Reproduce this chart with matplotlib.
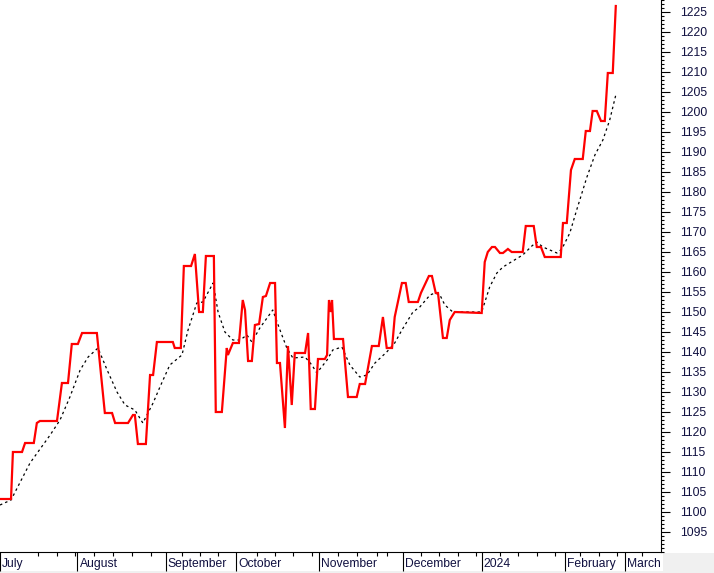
import numpy as np
import matplotlib
matplotlib.use("Agg")
import matplotlib.pyplot as plt
import matplotlib.transforms as mtransforms
from matplotlib.patches import Rectangle
from matplotlib.ticker import MultipleLocator, FixedLocator, NullFormatter

# trading-session index (0 = start of July) and closing level, red line
price_day = [0, 2.9, 3.4, 5.8, 6.6, 8.9, 9.7, 10.5, 15, 16.3, 17.9, 18.9, 20.5, 21.6,
             25.5, 27.6, 29.5, 30.3, 33.7, 35, 35.5, 36.3, 38.4, 39.5, 40.3, 41.3,
             45.5, 46, 47.6, 48.4, 50.3, 51.3, 52.4, 53.4, 54.2, 56.3, 56.8, 58.4,
             59.7, 60, 61.3, 62.9, 63.9, 64.5, 65.3, 66.3, 67.1, 68.2, 69.2, 70,
             71.1, 72.4, 72.9, 73.7, 75, 75.8, 76.8, 77.6, 80.3, 81.1, 81.8, 82.9,
             83.7, 85.5, 86.1, 86.6, 87.1, 87.4, 87.9, 90.3, 91.6, 93.9, 94.7, 96.1,
             97.9, 99.7, 100.8, 101.8, 103.2, 103.9, 105.8, 106.8, 107.6, 110, 110.8,
             112.9, 113.7, 114.7, 115.3, 116.6, 117.6, 118.4, 119.7, 126.8, 127.6,
             128.4, 129.5, 130.3, 131.6, 132.4, 133.7, 134.7, 137.6, 138.4, 140.5,
             141.3, 142.4, 143.4, 147.6, 148.2, 149.2, 150.3, 151.3, 153.4, 154.2,
             155.3, 156, 157.1, 158.2, 159.2, 160, 161.3, 162.1]
price = [1103.25, 1103.25, 1115, 1115, 1117.25, 1117.25, 1122.25, 1122.75, 1122.75,
         1132.25, 1132.25, 1142, 1142, 1144.75, 1144.75, 1124.75, 1124.75, 1122.25,
         1122.25, 1124.25, 1124.25, 1117, 1117, 1134.25, 1134.25, 1142.5, 1142.5,
         1141, 1141, 1161.5, 1161.5, 1164.5, 1150, 1150, 1164, 1164, 1125, 1125,
         1141, 1139.25, 1142.25, 1142.25, 1153, 1150.5, 1137.75, 1137.75, 1146.75,
         1147, 1153.75, 1154, 1157.25, 1157.25, 1137.25, 1137.25, 1121, 1141.5,
         1126.75, 1139.75, 1139.75, 1144.75, 1125.75, 1125.75, 1138.25, 1138.25,
         1139.25, 1153, 1150, 1153, 1143.25, 1143.25, 1128.75, 1128.75, 1132, 1132,
         1141.5, 1141.5, 1148.75, 1141, 1141, 1148.75, 1157.25, 1157.25, 1152.5,
         1152.5, 1154.75, 1159, 1159, 1154.75, 1154.75, 1143.5, 1143.5, 1148, 1150,
         1149.75, 1162.5, 1165, 1166.25, 1166.25, 1164.75, 1164.75, 1165.75, 1165,
         1165, 1171.5, 1171.5, 1166.25, 1166.25, 1163.75, 1163.75, 1172.25, 1172.25,
         1185.5, 1188.25, 1188.25, 1195.25, 1195.25, 1200.25, 1200.25, 1197.75,
         1197.75, 1209.75, 1209.75, 1226.5]

# moving average, black dotted line
ma_day = [0, 2.9, 7.9, 13.2, 15.8, 18.4, 21.1, 23.2, 25.8, 28.2, 30.8, 32.9, 35.5,
          37.6, 40.3, 42.1, 44.7, 47.9, 49.5, 51.8, 53.4, 56.1, 57.4, 59.2, 61.3,
          63.2, 65, 66.3, 68.4, 71.8, 73.7, 75.5, 77.1, 80.3, 82.1, 83.4, 86.1,
          87.6, 90, 92.1, 94.7, 96.6, 98.7, 101.8, 103.9, 105.8, 108.7, 110.5,
          113.2, 114.5, 115.8, 117.1, 119.2, 126.8, 128.9, 130.8, 132.4, 135,
          137.6, 140, 141.3, 142.9, 146.6, 147.9, 150, 151.8, 154.5, 156.6, 158.7,
          160.5, 162.1]
ma = [1101.75, 1103, 1112.25, 1119.25, 1123, 1128.75, 1135.5, 1138.75, 1141, 1135.5,
      1130, 1126.75, 1125.5, 1122.25, 1127.25, 1131.25, 1136.75, 1139.25, 1145.5,
      1152.25, 1152.5, 1157.25, 1150, 1145, 1143, 1143, 1144.25, 1142.5, 1146,
      1150.5, 1145.5, 1141, 1138.5, 1138.75, 1136.75, 1134.75, 1138, 1140.5,
      1141.25, 1136.75, 1133.75, 1134.25, 1137.25, 1140, 1142.25, 1145.5, 1150,
      1151.25, 1154.25, 1154.75, 1154.25, 1151.75, 1150, 1150, 1156.25, 1159.75,
      1161.25, 1162.75, 1164.25, 1166.5, 1167.5, 1166.25, 1164.75, 1165.75,
      1169.75, 1175.5, 1183.75, 1189.25, 1193, 1198, 1204.25]

# month starts (session index) and labels
month_pos = [0, 20.4, 43.6, 62.2, 84, 106, 126.8, 148.6, 164.4]
month_labels = ["July", "August", "September", "October", "November",
                "December", "2024", "February", "March"]
week_pos = [10, 15, 19.7, 24.7, 29.7, 34.7, 39.7, 47.9, 52.6, 57.4, 67.6, 72.4,
            77.1, 82.1, 89.1, 94.1, 99.2, 101.9, 110.8, 115.6, 120.5, 125.2, 131.6,
            136.4, 141.3, 146, 152.6, 157.6, 162.4, 169]

fig = plt.figure(figsize=(7.14, 5.73), dpi=100)
fig.patch.set_facecolor("white")
W, H = 714, 573
ax = fig.add_axes([0, 21 / H, 661 / W, 552 / H])

ax.plot(ma_day, ma, color="black", lw=0.9, ls=(0, (2, 2.5)))
ax.plot(price_day, price, color="#ff0000", lw=1.6, solid_joinstyle="miter")

ax.set_xlim(0, 174)
ax.set_ylim(1090, 1228)

for s in ["top", "left"]:
    ax.spines[s].set_visible(False)
ax.spines["right"].set_linewidth(0.8)
ax.spines["bottom"].set_linewidth(0.8)

ax.yaxis.tick_right()
ax.yaxis.set_major_locator(MultipleLocator(5))
ax.yaxis.set_minor_locator(MultipleLocator(1))
ax.tick_params(axis="y", which="major", length=6.5, width=0.8, pad=7,
               labelsize=8.7, labelcolor="#101040")
ax.tick_params(axis="y", which="minor", length=2.4, width=0.8)
ax.set_yticks([t for t in range(1095, 1230, 5)])

ax.xaxis.set_major_locator(FixedLocator(month_pos))
ax.xaxis.set_minor_locator(FixedLocator(week_pos))
ax.xaxis.set_major_formatter(NullFormatter())
ax.tick_params(axis="x", which="major", length=14, width=0.8)
ax.tick_params(axis="x", which="minor", length=3, width=0.8)

trans = mtransforms.blended_transform_factory(ax.transData, ax.transAxes)
trans = mtransforms.offset_copy(trans, fig=fig, x=2, y=-12, units="dots")
for p, lab in zip(month_pos, month_labels):
    ax.text(p, 0, lab, transform=trans, ha="left", va="center",
            fontsize=8.7, color="#101040", family="Liberation Sans")

for lab in ax.get_yticklabels():
    lab.set_family("Liberation Sans")

# grey frame pieces at the bottom and bottom-right corner
fig.patches.append(Rectangle((0, 0), 1, 2 / H, transform=fig.transFigure,
                             facecolor="#f0f0f0", edgecolor="none", zorder=-1))
fig.patches.append(Rectangle((663 / W, 0), 1, 20 / H, transform=fig.transFigure,
                             facecolor="#f0f0f0", edgecolor="none", zorder=-1))

fig.savefig("out.png", dpi=100)
